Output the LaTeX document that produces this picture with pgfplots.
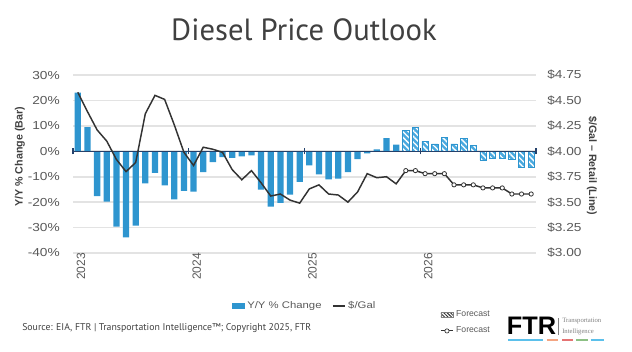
\documentclass[border=0pt]{standalone}
\usepackage{pgfplots}
\pgfplotsset{compat=1.18}
\usepackage{pgfplotstable}
\usetikzlibrary{patterns.meta}
\usepackage{fontspec}
\setmainfont{Liberation Sans}
\newfontfamily\stretchfont{Liberation Sans}[FakeStretch=1.18]
\newfontfamily\titlefont{PT Sans}
\newfontfamily\logoserif{Liberation Serif}

\definecolor{barblue}{HTML}{2E95CF}
\definecolor{hatchblue}{HTML}{4AA9DF}
\definecolor{linegray}{HTML}{333333}
\definecolor{gridgray}{HTML}{E3E3E3}
\definecolor{ticktext}{HTML}{595959}
\definecolor{titlegray}{HTML}{404040}
\definecolor{axisnavy}{HTML}{24416B}
\definecolor{logoblue}{HTML}{5BC0EB}
\definecolor{logoorange}{HTML}{F4A582}
\definecolor{logored}{HTML}{E57373}
\definecolor{logogreen}{HTML}{8CC084}

\pgfplotstableread{
m v
0 23.1
1 9.5
2 -17.6
3 -19.8
4 -29.6
5 -33.9
6 -29.2
7 -12.6
8 -8.5
9 -13.4
10 -18.9
11 -15.6
12 -15.9
13 -8.2
14 -4.3
15 -2.3
16 -2.6
17 -2.0
18 -1.6
19 -15.1
20 -21.8
21 -20.3
22 -17.0
23 -12.0
24 -5.5
25 -9.1
26 -11.0
27 -10.7
28 -8.2
29 -3.1
30 -0.8
31 0.8
32 5.2
33 2.6
}\barsactual

\pgfplotstableread{
m v
34 8.3
35 9.3
36 3.9
37 2.9
38 5.6
39 2.9
40 5.0
41 2.2
42 -3.5
43 -2.6
44 -2.7
45 -3.0
46 -6.1
47 -6.3
}\barsforecast

\pgfplotstableread{
m p
0 4.58
1 4.39
2 4.21
3 4.10
4 3.92
5 3.80
6 3.89
7 4.37
8 4.55
9 4.51
10 4.26
11 3.99
12 3.86
13 4.04
14 4.02
15 3.99
16 3.82
17 3.72
18 3.81
19 3.69
20 3.56
21 3.58
22 3.52
23 3.49
24 3.63
25 3.67
26 3.58
27 3.57
28 3.50
29 3.60
30 3.78
31 3.74
32 3.75
33 3.68
34 3.81
}\priceactual

\pgfplotstableread{
m p
34 3.81
35 3.81
36 3.78
37 3.78
38 3.78
39 3.67
40 3.67
41 3.67
42 3.64
43 3.64
44 3.64
45 3.58
46 3.58
47 3.58
}\priceforecast

\begin{document}
\begin{tikzpicture}
\useasboundingbox (0,0) rectangle (474pt,263.25pt);

% ---------- bar axis (left) ----------
\begin{axis}[
  at={(54.75pt,73.5pt)}, anchor=south west,
  scale only axis, width=347.25pt, height=133.5pt,
  xmin=-0.5, xmax=47.5, ymin=-40, ymax=30,
  enlargelimits=false,
  axis line style={draw=none},
  major tick length=0pt,
  xtick={-0.5,11.5,23.5,35.5},
  xticklabels={2023,2024,2025,2026},
  xticklabel style={rotate=90, anchor=east, inner sep=0pt, yshift=-6pt,
    font=\fontsize{9}{10}\selectfont, text=ticktext},
  ytick={-40,-30,-20,-10,0,10,20,30},
  yticklabels={-40\%,-30\%,-20\%,-10\%,0\%,10\%,20\%,30\%},
  yticklabel style={inner sep=0pt, xshift=-9.75pt,
    font=\stretchfont\fontsize{8.7}{10}\selectfont, text=ticktext},
  ymajorgrids, grid style={gridgray, line width=1.3pt},
  ybar, bar width=0.65, bar shift=0pt,
  clip=false,
  ylabel={Y/Y \% Change (Bar)},
  every axis y label/.style={at={(axis description cs:-0.1145,0.54)}, rotate=90, anchor=center,
    font=\bfseries\fontsize{8}{10}\selectfont, text=titlegray},
  legend columns=2,
  legend style={draw=none, fill=none, at={(axis description cs:0.501,-0.298)}, anchor=center,
    font=\stretchfont\fontsize{7.2}{9}\selectfont, text=ticktext, inner sep=0pt,
    /tikz/every even column/.append style={column sep=6pt}},
  legend cell align=left,
]
\addplot[fill=barblue, draw=none,
  legend image code/.code={\fill[barblue] (0pt,-2pt) rectangle (9.5pt,2pt);}]
  table[x=m, y=v] {\barsactual};
\addlegendentry{Y/Y \% Change}
\addplot[fill=hatchblue, draw=barblue, line width=0.4pt, forget plot,
  postaction={pattern={Lines[angle=-45,distance=3pt,line width=1pt]}, pattern color=white}]
  table[x=m, y=v] {\barsforecast};
\addlegendimage{legend image code/.code={\draw[linegray, line width=1pt] (0pt,0pt) -- (9pt,0pt);}}
\addlegendentry{\$/Gal}
\draw[axisnavy, line width=1.1pt] (axis cs:-0.5,0) -- (axis cs:47.5,0);
\draw[axisnavy, line width=0.8pt] (axis cs:-0.5,-1.2) -- (axis cs:-0.5,1.2);
\draw[axisnavy, line width=0.8pt] (axis cs:11.5,-1.2) -- (axis cs:11.5,1.2);
\draw[axisnavy, line width=0.8pt] (axis cs:23.5,-1.2) -- (axis cs:23.5,1.2);
\draw[axisnavy, line width=0.8pt] (axis cs:35.5,-1.2) -- (axis cs:35.5,1.2);
\draw[axisnavy, line width=0.8pt] (axis cs:47.5,-1.2) -- (axis cs:47.5,1.2);
\end{axis}

% ---------- price axis (right) ----------
\begin{axis}[
  at={(54.75pt,73.5pt)}, anchor=south west,
  scale only axis, width=347.25pt, height=133.5pt,
  xmin=-0.5, xmax=47.5, ymin=3, ymax=4.75,
  enlargelimits=false,
  axis x line=none, axis y line*=right,
  axis line style={draw=none},
  major tick length=0pt,
  xtick=\empty,
  ytick={3,3.25,3.5,3.75,4,4.25,4.5,4.75},
  yticklabels={\$3.00,\$3.25,\$3.50,\$3.75,\$4.00,\$4.25,\$4.50,\$4.75},
  yticklabel style={inner sep=0pt, xshift=8.25pt, anchor=west,
    font=\stretchfont\fontsize{8.7}{10}\selectfont, text=ticktext},
  clip=false,
  ylabel={\$/Gal – Retail (Line)},
  every axis y label/.style={at={(axis description cs:1.121,0.49)}, rotate=-90, anchor=center,
    font=\bfseries\fontsize{8}{10}\selectfont, text=titlegray},
  legend columns=1,
  legend style={draw=none, fill=none, at={(axis description cs:0.793,-0.393)}, anchor=west,
    font=\fontsize{6.5}{8}\selectfont, text=ticktext, inner sep=0pt,
    row sep=2pt},
  legend cell align=left,
]
\addplot[linegray, line width=1.1pt, no marks, forget plot] table[x=m, y=p] {\priceactual};
\addplot[linegray, line width=1.1pt, mark=*, mark size=1.6pt,
  mark options={fill=white, draw=linegray, line width=0.6pt}, forget plot]
  table[x=m, y=p] {\priceforecast};
\addlegendimage{legend image code/.code={
  \filldraw[draw=gray, fill=white, line width=0.3pt,
    postaction={pattern={Lines[angle=-45,distance=1.8pt,line width=0.7pt]}, pattern color=linegray}]
    (0pt,-2pt) rectangle (9pt,2pt);}}
\addlegendentry{Forecast}
\addlegendimage{legend image code/.code={
  \draw[linegray, line width=0.8pt] (0pt,0pt) -- (9pt,0pt);
  \filldraw[fill=white, draw=linegray, line width=0.5pt] (4.5pt,0pt) circle (1.6pt);}}
\addlegendentry{Forecast}
\end{axis}

% ---------- title ----------
\node[font=\titlefont\fontsize{23}{26}\selectfont, text=titlegray] at (228pt,240.75pt) {Diesel Price Outlook};

% ---------- source ----------
\node[anchor=west, inner sep=0pt, font=\titlefont\fontsize{7.35}{8}\selectfont, text=titlegray]
  at (16.5pt,17.25pt) {Source: EIA, FTR | Transportation Intelligence™; Copyright 2025, FTR};

% ---------- logo ----------
\node[anchor=west, inner sep=0pt, font=\bfseries\fontsize{19}{19}\selectfont, text=black]
  at (380pt,19pt) {FTR};
\draw[gray, line width=0.4pt] (419pt,12pt) -- (419pt,25pt);
\node[anchor=base west, inner sep=0pt, font=\logoserif\fontsize{5}{6}\selectfont, text=gray]
  at (421.5pt,21.5pt) {Transportation};
\node[anchor=base west, inner sep=0pt, font=\logoserif\fontsize{5}{6}\selectfont, text=gray]
  at (421.5pt,13.5pt) {Intelligence};
\draw[logoblue, line width=1.5pt] (381pt,8.5pt) -- (407pt,8.5pt);
\draw[logoorange, line width=1.5pt] (410pt,8.5pt) -- (418.5pt,8.5pt);
\draw[logored, line width=1.5pt] (421.5pt,8.5pt) -- (430pt,8.5pt);
\draw[logogreen, line width=1.5pt] (432pt,8.5pt) -- (441pt,8.5pt);
\draw[logoblue, line width=1.5pt] (443pt,8.5pt) -- (453pt,8.5pt);
\end{tikzpicture}
\end{document}
